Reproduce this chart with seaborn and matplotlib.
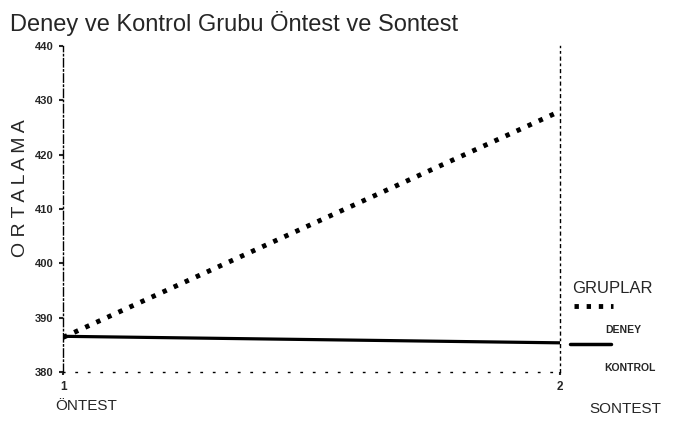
import pandas as pd
import matplotlib.pyplot as plt
import seaborn as sns

# data
olcum = [1, 2]
deney = [386.4, 428.0]
kontrol = [386.6, 385.4]
yticks = [380, 390, 400, 410, 420, 430, 440]

df = pd.DataFrame({
    "olcum": olcum * 2,
    "ortalama": deney + kontrol,
    "grup": ["DENEY"] * 2 + ["KONTROL"] * 2,
})

sns.set_style("white")
plt.rcParams["font.family"] = ["Liberation Sans", "DejaVu Sans"]

fig = plt.figure(figsize=(6.79, 4.41), dpi=100)
ax = fig.add_axes([0.093, 0.156, 0.732, 0.74])

sns.lineplot(data=df[df.grup == "DENEY"], x="olcum", y="ortalama", ax=ax,
             color="black", linewidth=3.5, linestyle=(0, (0.9, 1.6)))
sns.lineplot(data=df[df.grup == "KONTROL"], x="olcum", y="ortalama", ax=ax,
             color="black", linewidth=2.3)

ax.set_xlim(1, 2)
ax.set_ylim(380, 440)
ax.set_yticks(yticks)
ax.set_yticklabels([str(v) for v in yticks], fontsize=8, fontweight="bold")
ax.set_xticks(olcum)
ax.set_xticklabels(["1", "2"], fontsize=8.5, fontweight="bold")
ax.tick_params(axis="y", left=True, length=3, width=1.5, direction="out", pad=4)
ax.tick_params(axis="x", bottom=True, length=2, width=1.5, direction="out", pad=4)

ax.spines["top"].set_visible(False)
ax.spines["left"].set_linestyle((0, (6, 2, 1, 2)))
ax.spines["right"].set_linestyle((0, (2, 3, 1, 3)))
ax.spines["bottom"].set_linestyle((0, (1, 8)))
for s in ["left", "right", "bottom"]:
    ax.spines[s].set_linewidth(1)
    ax.spines[s].set_color("black")

ax.set_xlabel("")
ax.set_ylabel("")
fig.text(0.03, 0.574, "O R T A L A M A", rotation=90, fontsize=14,
         ha="center", va="center")

fig.text(0.015, 0.975, "Deney ve Kontrol Grubu Öntest ve Sontest",
         fontsize=17, ha="left", va="top")
fig.text(0.081, 0.08, "ÖNTEST", fontsize=11, ha="left", va="center")
fig.text(0.868, 0.072, "SONTEST", fontsize=11, ha="left", va="center")

# legend drawn as figure text with sample lines
fig.text(0.842, 0.345, "GRUPLAR", fontsize=12, ha="left", va="center")
fig.add_artist(plt.Line2D([0.845, 0.903], [0.307, 0.307], transform=fig.transFigure,
                          color="black", linewidth=3.5, linestyle=(0, (0.9, 1.6))))
fig.text(0.892, 0.252, "DENEY", fontsize=7.5, fontweight="bold", ha="left", va="center")
fig.add_artist(plt.Line2D([0.84, 0.9], [0.22, 0.22], transform=fig.transFigure,
                          color="black", linewidth=2.5))
fig.text(0.89, 0.165, "KONTROL", fontsize=7.5, fontweight="bold", ha="left", va="center")

fig.savefig("out.png", dpi=100)
